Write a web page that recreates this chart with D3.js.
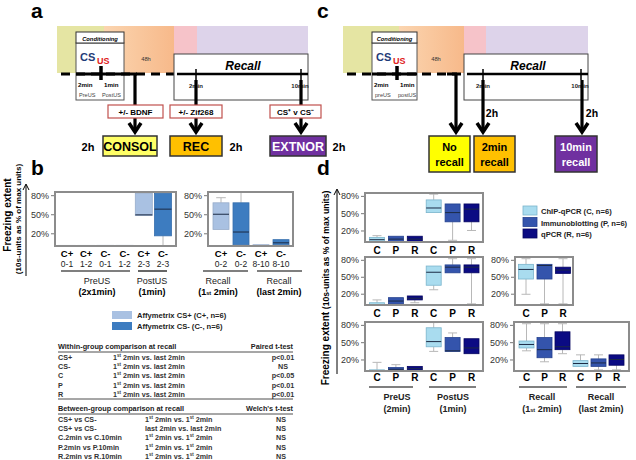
<!DOCTYPE html>
<html><head><meta charset="utf-8">
<script src="https://cdn.jsdelivr.net/npm/d3@7"></script>
<style>body{margin:0;background:#fff}svg{display:block}text{font-family:Arial,"Liberation Sans",sans-serif}</style>
</head><body><svg id="c" width="636" height="460"></svg>
<script>
// ---------- DATA ----------
const yTicks = [20, 50, 80];
const yDomain = [0, 85];
// stats = [whiskerLow, q1, median, q3, whiskerHigh]
const bLeftTop = ["C+","C+","C-","C-","C+","C-"];
const bLeftBot = ["0-1","1-2","0-1","1-2","2-3","2-3"];
const bLeftStats = [[0,0,0,1,1],[0,0,0,1,1],[0,0,0,1,1],[0,0,0,1,1],[48,48,49,83,83],[0,16,58,83,83]];
const bRightTop = ["C+","C-","C+","C-"];
const bRightBot = ["0-2","0-2","8-10","8-10"];
const bRightStats = [[26,26,50,68,76],[2,2,22,68,85],[1,1,1.5,2,2],[2,2,5,10,10]];
const bGroups = ["PreUS|(2x1min)","PostUS|(1min)","Recall|(1st 2min)","Recall|(last 2min)"];
const bLegend = ["Affymetrix CS+ (C+, n=6)","Affymetrix CS-  (C-, n=6)"];

const dCats = ["C","P","R","C","P","R"];
const dRow1Left = [[1,1,4,8,11],[1,1,5,10,10],[1,1,5,10,10],[51,51,59,73,83],[3,35,51,66,66],[20,35,57,66,66]];
const dRow2Left = [[1,1,2,4,9],[2,2,7,13,13],[4,9,12,16,16],[27,35,58,69,69],[57,57,67,71,82],[2,57,67,71,82]];
const dRow2Right = [[19,46,63,72,82],[2,46,70,72,72],[2,56,62,67,82]];
const dRow3Left = [[0,0,1,2,15],[1,1,3,6,11],[1,1,4,8,8],[34,42,51,75,84],[34,34,35,58,66],[30,30,40,56,56]];
const dRow3Right = [[35,40,46,52,82],[16,23,37,58,82],[30,37,42,68,82],[8,8,13,18,28],[2,8,14,21,28],[2,10,20,28,28]];
const dGroups = ["PreUS|(2min)","PostUS|(1min)","Recall|(1st 2min)","Recall|(last 2min)"];
const dLegend = ["ChIP-qPCR (C, n=6)","Immunoblotting (P, n=6)","qPCR (R, n=6)"];

const withinHead = ["Within-group comparison at recall","Paired t-test"];
const withinRows = [["CS+","1st 2min vs. last 2min","p<0.01"],["CS-","1st 2min vs. last 2min","NS"],["C","1st 2min vs. last 2min","p<0.05"],["P","1st 2min vs. last 2min","p<0.01"],["R","1st 2min vs. last 2min","p<0.01"]];
const betweenHead = ["Between-group comparison at recall","Welch's t-test"];
const betweenRows = [["CS+  vs  CS-","1st 2min vs. 1st 2min","NS"],["CS+  vs  CS-","last 2min vs. last 2min","NS"],["C.2min vs C.10min","1st 2min vs. 1st 2min","NS"],["P.2min vs P.10min","1st 2min vs. 1st 2min","NS"],["R.2min vs R.10min","1st 2min vs. 1st 2min","NS"]];

// ---------- COLOURS ----------
const colB = {"C+":"#a9c1e2","C-":"#3d7cc0"};
const colD = {"C":"#a9dcef","P":"#3454ac","R":"#0b0b83"};
const strD = {"C":"#7ab4cc","P":"#23408e","R":"#050560"};

const svg = d3.select("#c");
function T(x,y,str,o={}){const t=svg.append("text").attr("x",x).attr("y",y).text(str)
  .attr("font-size",o.fs||8).attr("font-weight",o.fw||"bold").attr("fill",o.fill||"#000")
  .attr("text-anchor",o.anchor||"start");if(o.italic)t.attr("font-style","italic");return t;}
function R(x,y,w,h,fill,stroke,sw){return svg.append("rect").attr("x",x).attr("y",y).attr("width",w).attr("height",h)
  .attr("fill",fill||"none").attr("stroke",stroke||"none").attr("stroke-width",sw||1);}
function L(x1,y1,x2,y2,stroke,sw,dash){const l=svg.append("line").attr("x1",x1).attr("y1",y1).attr("x2",x2).attr("y2",y2)
  .attr("stroke",stroke||"#000").attr("stroke-width",sw||1);if(dash)l.attr("stroke-dasharray",dash);return l;}
function arrow(x,y1,y2){L(x,y1,x,y2-2,"#000",3.2);
  svg.append("path").attr("d",`M${x-6},${y2-9}L${x},${y2}L${x+6},${y2-9}`).attr("fill","none").attr("stroke","#000").attr("stroke-width",3.5);}
function richText(x,y,str,o={}){ // renders "1st" with small "st"
  const t=T(x,y,"",o); const parts=str.split(/(1st)/); const fs=o.fs||8; let pend=0;
  parts.forEach(p=>{
    if(p==="1st"){
      const a=t.append("tspan").text("1"); if(pend){a.attr("dy",pend);pend=0;}
      const s=t.append("tspan").text("st").attr("font-size",fs*0.62);
      if(!o.sub){s.attr("dy",-3);pend=3;}
    } else if(p){const a=t.append("tspan").text(p); if(pend){a.attr("dy",pend);pend=0;}}
  });
  return t;}

// ---------- gradient ----------
const defs=svg.append("defs");
const gr=defs.append("linearGradient").attr("id","og");
gr.append("stop").attr("offset","0").attr("stop-color","#fbd5b0");
gr.append("stop").attr("offset","1").attr("stop-color","#f7b98a");

// ---------- TIMELINES (a, c) ----------
function timeline(p){
  R(p.b[0],26,p.b[1]-p.b[0],47,"#e5e5a3");
  R(p.b[1],26,p.b[2]-p.b[1],47,"url(#og)");
  R(p.b[2],26,p.b[3]-p.b[2],47,"#f6c3c9");
  R(p.b[3],26,p.b[4]-p.b[3],47,"#ddd3ea");
  R(p.cx0,43,p.cx1-p.cx0,57,"#fff","#555",1);
  R(p.cx0,32,p.cx1-p.cx0,11,"#fff","#333",1);
  T((p.cx0+p.cx1)/2,40.5,"Conditioning",{fs:5.8,italic:true,anchor:"middle"});
  T(p.cx0+4,61,"CS",{fs:11,fill:"#1f3b78"});
  T(p.cx0+21,64,"US",{fs:9,fill:"#e02020"});
  L(p.b[0]+4,74,p.rx0,74,"#000",3,"9,6");
  L(p.cx0,74,p.cx1,74,"#000",3);
  L(p.cx0+25,66,p.cx0+25,80,"#000",3.5);
  T(p.cx0+2,87,"2min",{fs:6.2});
  T(p.cx0+28,87,"1min",{fs:6.2});
  T(p.cx0+3,97,p.pre,{fs:5.6,fw:"normal",fill:"#444"});
  T(p.cx0+26,97,p.post,{fs:5.6,fw:"normal",fill:"#444"});
  T(p.h48,61,"48h",{fs:5.8,fw:"normal",anchor:"middle",fill:"#333"});
  R(p.rx0,54,p.rx1-p.rx0,46,"#fff","#444",1);
  T((p.rx0+p.rx1)/2+2,70,"Recall",{fs:12,italic:true,anchor:"middle"});
  L(p.rx0+3,74,p.rx1,74,"#000",2.6);
  L(p.t2,69,p.t2,80,"#000",1.5); L(p.t10,69,p.t10,80,"#000",1.5);
  T(p.t2,88,"2min",{fs:6,anchor:"middle",fill:"#222"});
  T(p.t10-1,88,"10min",{fs:6,anchor:"middle",fill:"#222"});
}
timeline({b:[57,104,174,197,308],cx0:76,cx1:124,rx0:174,rx1:308,t2:196,t10:301,h48:146,pre:"PreUS",post:"PostUS"});
timeline({b:[343,399,464,486,588],cx0:372,cx1:417,rx0:464,rx1:588,t2:483,t10:581,h48:436,pre:"preUS",post:"postUS"});

// panel a arrows and boxes
L(124,74,137,74,"#000",3);
arrow(135,74,132); arrow(196,80,132); arrow(301,80,132);
[[108,163,"+/- BDNF"],[170,222,"+/- Zif268"],[270,321,"CS\u207A v CS\u207B"]].forEach(d=>{
  R(d[0],105,d[1]-d[0],13,"#fff","#c0504d",1.2);
  T((d[0]+d[1])/2,114.5,d[2],{fs:8,anchor:"middle"});
});
[[103,157,"#ffff66","CONSOL","#000"],[170,222,"#ffc000","REC","#000"],[270,326,"#7030a0","EXTNOR","#fff"]].forEach(d=>{
  R(d[0],136,d[1]-d[0],20,d[2],"#333",1.5);
  T((d[0]+d[1])/2,151,d[3],{fs:12.5,anchor:"middle",fill:d[4]});
});
T(88,151,"2h",{fs:11,anchor:"middle"});
T(236,151,"2h",{fs:11,anchor:"middle"});
T(339,151,"2h",{fs:11,anchor:"middle"});

// panel c arrows and boxes
L(447,74,457,74,"#000",3);
arrow(456,74,132); arrow(483,80,132); arrow(582,80,132);
T(492,117,"2h",{fs:10.5,anchor:"middle"});
T(592,117,"2h",{fs:10.5,anchor:"middle"});
[[429,470,"#ffff00",["No","recall"],"#000"],[474,515,"#ffc000",["2min","recall"],"#000"],[555,597,"#7030a0",["10min","recall"],"#fff"]].forEach(d=>{
  R(d[0],136,d[1]-d[0],36,d[2],"#333",1.5);
  T((d[0]+d[1])/2,151,d[3][0],{fs:11,anchor:"middle",fill:d[4]});
  T((d[0]+d[1])/2,166,d[3][1],{fs:11,anchor:"middle",fill:d[4]});
});

// panel letters
T(31,18,"a",{fs:21}); T(31,175,"b",{fs:21}); T(317,18,"c",{fs:21}); T(317,175,"d",{fs:21});

// ---------- BOX PLOTS ----------
function boxPanel(x0,x1,yTop,yBot,stats,fills,strokes,xr,bw){
  const y=d3.scaleLinear().domain(yDomain).range([yBot,yTop]);
  const x=d3.scalePoint().domain(d3.range(stats.length)).range(xr);
  const g=svg.append("g");
  stats.forEach((s,i)=>{
    const cx=x(i); const [lo,q1,md,q3,hi]=s;
    if(hi>q3){g.append("line").attr("x1",cx).attr("x2",cx).attr("y1",y(q3)).attr("y2",y(hi)).attr("stroke","#b8b8b8");
      g.append("line").attr("x1",cx-bw*0.3).attr("x2",cx+bw*0.3).attr("y1",y(hi)).attr("y2",y(hi)).attr("stroke","#b8b8b8");}
    if(lo<q1){g.append("line").attr("x1",cx).attr("x2",cx).attr("y1",y(q1)).attr("y2",y(lo)).attr("stroke","#b8b8b8");
      g.append("line").attr("x1",cx-bw*0.3).attr("x2",cx+bw*0.3).attr("y1",y(lo)).attr("y2",y(lo)).attr("stroke","#b8b8b8");}
    const h=Math.max(1,y(q1)-y(q3));
    g.append("rect").attr("x",cx-bw/2).attr("y",y(q3)).attr("width",bw).attr("height",h)
      .attr("fill",fills[i]).attr("stroke",strokes[i]).attr("stroke-width",0.8);
    if(h>2) g.append("line").attr("x1",cx-bw/2).attr("x2",cx+bw/2).attr("y1",y(md)).attr("y2",y(md)).attr("stroke","#1c2a44").attr("stroke-width",1);
  });
  R(x0,yTop,x1-x0,yBot-yTop,"none","#8c8c8c",2);
  const ax=svg.append("g").attr("transform",`translate(${x0-1},0)`)
    .call(d3.axisLeft(y).tickValues(yTicks).tickSize(3).tickFormat(d=>d+"%"));
  ax.select(".domain").remove();
  ax.selectAll("line").attr("stroke","#777");
  ax.selectAll("text").attr("font-size",9).attr("fill","#333").attr("font-family",'Arial,"Liberation Sans",sans-serif').attr("dx",1);
  return x;
}

// panel b
const bl=boxPanel(55,176,192,246,bLeftStats,bLeftTop.map(c=>colB[c]),bLeftTop.map(c=>d3.color(colB[c]).darker(0.3)),[67,163],17);
const br=boxPanel(208,293,192,246,bRightStats,bRightTop.map(c=>colB[c]),bRightTop.map(c=>d3.color(colB[c]).darker(0.3)),[221,281],16);
[[bl,bLeftTop,bLeftBot],[br,bRightTop,bRightBot]].forEach(([x,tp,bt])=>{
  tp.forEach((c,i)=>{T(x(i),257,c,{fs:9.5,anchor:"middle"});T(x(i),267,bt[i],{fs:8.5,fw:"normal",anchor:"middle",fill:"#222"});});
});
[[61,130],[138,167],[203,248],[257,302]].forEach((s,i)=>{
  L(s[0],271,s[1],271,"#000",1.2);
  const [a,b]=bGroups[i].split("|");
  const cx=[97,152,218,279][i];
  T(cx,284,a,{fs:9,fw:"normal",anchor:"middle",fill:"#222"});
  richText(cx,295,b,{fs:9,anchor:"middle",sub:true});
});
T(0,0,"Freezing extent",{fs:10,anchor:"middle"}).attr("transform","translate(11,215) rotate(-90)");
T(0,0,"(10s-units as % of max units)",{fs:8,anchor:"middle"}).attr("transform","translate(21,219) rotate(-90)");
L(26,276,26,185,"#000",1);
svg.append("path").attr("d","M23,190L26,184L29,190").attr("fill","none").attr("stroke","#000");
bLegend.forEach((s,i)=>{R(112,311+i*11,20,8,colB[i?"C-":"C+"]);T(137,318+i*11,s,{fs:7.6,fill:"#222"});});

// tables
function table(yHead,head,rows,c2,c3){
  T(58,yHead,head[0],{fs:7.3,fill:"#222"}); T(293,yHead,head[1],{fs:7.3,fill:"#222",anchor:"end"});
  L(58,yHead+3,293,yHead+3,"#222",0.8);
  rows.forEach((r,i)=>{const yy=yHead+11+i*9.2;
    T(58,yy,r[0],{fs:7.2,fill:"#333"}); richText(c2,yy,r[1],{fs:7.2,fill:"#333"}); T(c3,yy,r[2],{fs:7.2,fill:"#333",anchor:"middle"});});
}
table(349,withinHead,withinRows,113,283);
L(58,399,293,399,"#222",0.8);
table(411,betweenHead,betweenRows,145,281);

// panel d
const dF=dCats.map(c=>colD[c]), dS=dCats.map(c=>strD[c]);
const x1=boxPanel(365,483,193,242,dRow1Left,dF,dS,[377,471.5],15);
const x2=boxPanel(365,483,257,305,dRow2Left,dF,dS,[377,471.5],15);
const x2r=boxPanel(515,573,257,305,dRow2Right,dF.slice(0,3),dS.slice(0,3),[526,563],15);
const x3=boxPanel(365,483,322,371,dRow3Left,dF,dS,[377,471.5],15);
const x3r=boxPanel(514,629,322,371,dRow3Right,dF,dS,[526.5,616.5],15);
[[x1,254,6],[x2,317,6],[x2r,317,3],[x3,381,6],[x3r,381,6]].forEach(([x,yy,n])=>{
  for(let i=0;i<n;i++) T(x(i),yy,dCats[i],{fs:10,anchor:"middle"});
});
[[369,413],[429,476],[519,567],[576,626]].forEach((s,i)=>{
  L(s[0],387,s[1],387,"#000",1.2);
  const [a,b]=dGroups[i].split("|");
  const cx=[397,453,542,601][i];
  T(cx,400,a,{fs:9,anchor:"middle",fill:"#222"});
  richText(cx,412,b,{fs:9,anchor:"middle",sub:true,fill:"#222"});
});
const dt=T(0,0,"",{anchor:"middle"}).attr("transform","translate(329,288) rotate(-90)");
dt.append("tspan").text("Freezing extent ").attr("font-size",10);
dt.append("tspan").text("(10s-units as % of max units)").attr("font-size",8.6);
L(337,374,337,190,"#000",1);
svg.append("path").attr("d","M334,195L337,189L340,195").attr("fill","none").attr("stroke","#000");
dLegend.forEach((s,i)=>{const c=["C","P","R"][i];R(523,206+i*11.5,14,9,colD[c],strD[c],0.8);T(541,214+i*11.5,s,{fs:7.6,fill:"#222"});});
</script></body></html>
